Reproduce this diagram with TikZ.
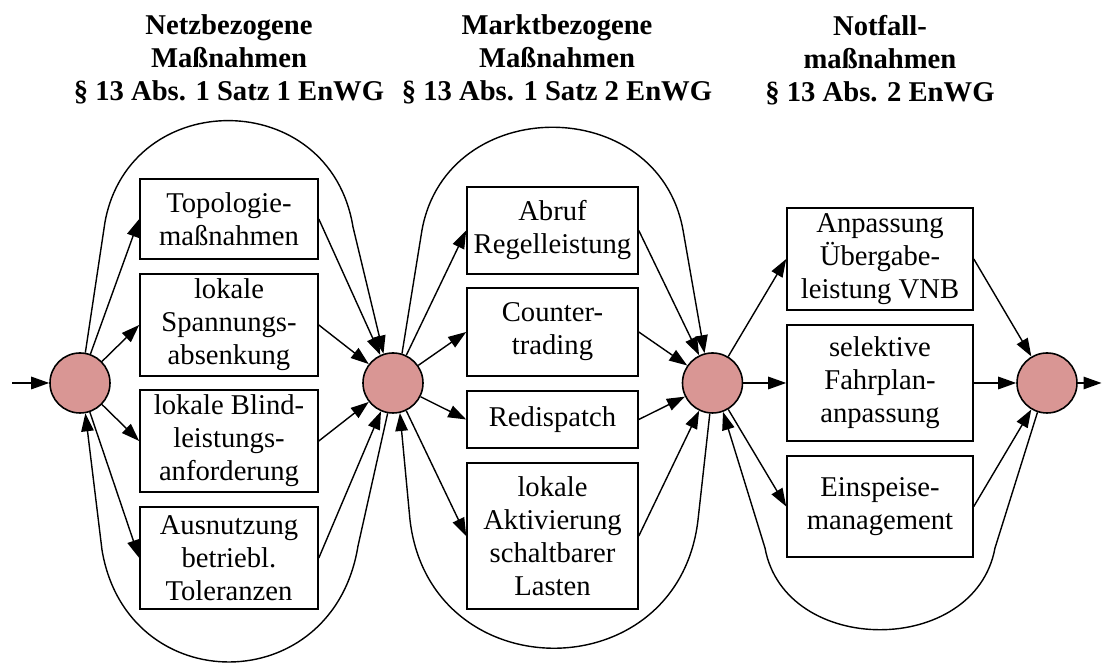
\documentclass[tikz,border=0pt]{standalone}
\usepackage{fontspec}
\setmainfont{Liberation Serif}
\usetikzlibrary{arrows.meta}
\definecolor{rosa}{RGB}{217,150,148}
\tikzset{
  knoten/.style={circle,draw,line width=0.9pt,fill=rosa,minimum size=1.2cm,inner sep=0pt},
  massnahme/.style={draw,line width=0.9pt,align=center,inner sep=0pt},
  titel/.style={align=center,anchor=north,inner sep=0pt,font=\fontsize{16.3}{18.8}\selectfont\bfseries},
  pfeil/.style={-{Triangle[length=0.36cm,width=0.25cm]},line width=0.8pt}
}

\begin{document}
\begin{tikzpicture}[font=\fontsize{16.3}{18.8}\selectfont]
    \useasboundingbox (0,0) rectangle (22.04,13.26);
    \node[titel] (t1) at (4.58,12.97) {Netzbezogene\\Maßnahmen\\§ 13 Abs. 1 Satz 1 EnWG};
    \node[titel] (t2) at (11.14,12.97) {Marktbezogene\\Maßnahmen\\§ 13 Abs. 1 Satz 2 EnWG};
    \node[titel] (t3) at (17.60,12.97) {Notfall-\\maßnahmen\\§ 13 Abs. 2 EnWG};
    \node[knoten] (k1) at (1.60,5.60) {};
    \node[knoten] (k2) at (7.86,5.60) {};
    \node[knoten] (k3) at (14.25,5.60) {};
    \node[knoten] (k4) at (20.94,5.60) {};
    % netzbezogen
    \node[massnahme,minimum width=3.56cm,minimum height=1.6cm] (m11) at (4.58,8.88) {Topologie-\\maßnahmen};
    \node[massnahme,minimum width=3.56cm,minimum height=2.04cm] (m12) at (4.58,6.76) {lokale\\Spannungs-\\absenkung};
    \node[massnahme,minimum width=3.56cm,minimum height=2.04cm] (m13) at (4.58,4.44) {lokale Blind-\\leistungs-\\anforderung};
    \node[massnahme,minimum width=3.56cm,minimum height=2.04cm] (m14) at (4.58,2.10) {Ausnutzung\\betriebl.\\Toleranzen};
    % marktbezogen
    \node[massnahme,minimum width=3.42cm,minimum height=1.74cm] (m21) at (11.05,8.65) {Abruf\\Regelleistung};
    \node[massnahme,minimum width=3.42cm,minimum height=1.76cm] (m22) at (11.05,6.62) {Counter-\\trading};
    \node[massnahme,minimum width=3.42cm,minimum height=1.14cm] (m23) at (11.05,4.87) {Redispatch};
    \node[massnahme,minimum width=3.42cm,minimum height=2.92cm] (m24) at (11.05,2.54) {lokale\\Aktivierung\\schaltbarer\\Lasten};
    % notfall
    \node[massnahme,minimum width=3.72cm,minimum height=2.04cm] (m31) at (17.60,8.08) {Anpassung\\Übergabe-\\leistung VNB};
    \node[massnahme,minimum width=3.72cm,minimum height=2.32cm] (m32) at (17.60,5.60) {selektive\\Fahrplan-\\anpassung};
    \node[massnahme,minimum width=3.72cm,minimum height=2.02cm] (m33) at (17.60,3.13) {Einspeise-\\management};
    \coordinate (ein) at (0.24,5.60);
    \coordinate (aus) at (22.03,5.60);
    \draw[pfeil] (ein) -- (k1);
    \draw[pfeil] (k4) -- (aus);
    \foreach \m in {m11,m12,m13,m14} {
      \draw[pfeil] (k1) -- (\m.west);
      \draw[pfeil] (\m.east) -- (k2);
    }
    \foreach \m in {m21,m22,m23,m24} {
      \draw[pfeil] (k2) -- (\m.west);
      \draw[pfeil] (\m.east) -- (k3);
    }
    \foreach \m in {m31,m32,m33} {
      \draw[pfeil] (k3) -- (\m.west);
      \draw[pfeil] (\m.east) -- (k4);
    }
    % Schleifen
    \draw[pfeil] (k1.80) -- (2.10,8.82) .. controls (2.60,11.54) and (6.60,11.54) .. (7.06,8.72) -- (k2.108);
    \draw[pfeil] (k2.260) -- (7.16,2.34) .. controls (6.66,-0.74) and (2.54,-0.74) .. (2.04,2.26) -- (k1.280);
    \draw[pfeil] (k2.73) -- (8.44,8.66) .. controls (8.94,11.40) and (13.16,11.40) .. (13.66,8.66) -- (k3.105);
    \draw[pfeil] (k3.265) -- (13.96,2.86) .. controls (13.56,-0.56) and (8.60,-0.56) .. (8.20,2.86) -- (k2.283);
    \draw[pfeil] (k4.252) -- (19.90,2.30) .. controls (19.50,0.12) and (15.70,0.12) .. (15.30,2.30) -- (k3.290);
  \end{tikzpicture}
\end{document}
